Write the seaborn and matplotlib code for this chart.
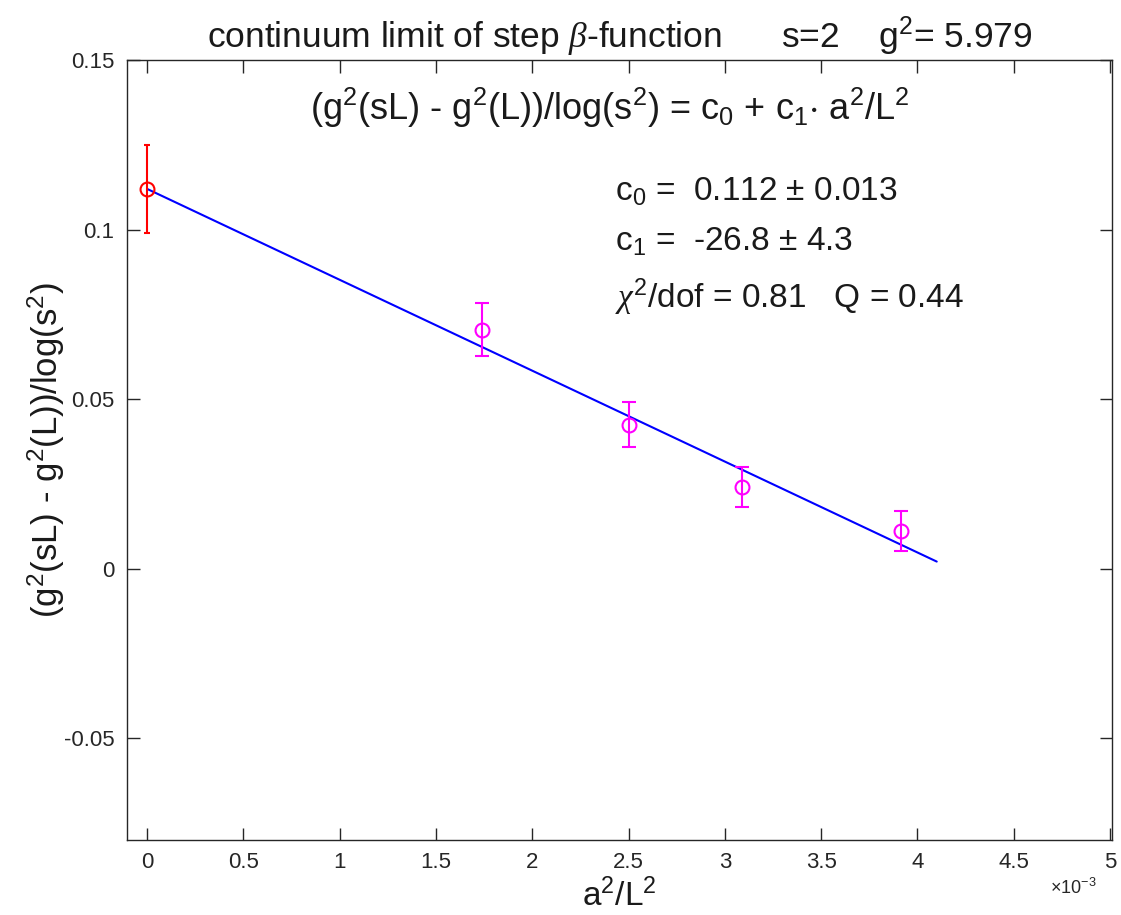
import matplotlib
matplotlib.use("Agg")
import matplotlib.pyplot as plt
import seaborn as sns
import numpy as np

# ---- data ----
x_cont = [0.0]
y_cont = [0.112]
e_cont = [0.013]

x_pts = [1.739e-3, 2.503e-3, 3.09e-3, 3.915e-3]
y_pts = [0.0705, 0.0425, 0.0242, 0.0112]
e_pts = [0.0077, 0.0067, 0.0059, 0.0059]

fit_x = [0.0, 4.1e-3]
fit_y = [0.112, 0.0021]

xticks = [0, 0.5e-3, 1e-3, 1.5e-3, 2e-3, 2.5e-3, 3e-3, 3.5e-3, 4e-3, 4.5e-3, 5e-3]
xtick_labels = ['0', '0.5', '1', '1.5', '2', '2.5', '3', '3.5', '4', '4.5', '5']
yticks = [-0.05, 0, 0.05, 0.1, 0.15]
ytick_labels = ['-0.05', '0', '0.05', '0.1', '0.15']

sns.set_theme(style="ticks")
plt.rcParams['font.family'] = ['Liberation Sans', 'DejaVu Sans']
plt.rcParams['mathtext.fontset'] = 'custom'
plt.rcParams['mathtext.rm'] = 'Liberation Sans'
plt.rcParams['mathtext.it'] = 'Liberation Serif:italic'
plt.rcParams['mathtext.default'] = 'regular'

fig = plt.figure(figsize=(11.21, 9.15), dpi=100)
ax = fig.add_axes([127/1121, 1-840/915, 985/1121, 780/915])

sns.lineplot(x=fit_x, y=fit_y, color='#0000ff', lw=1.5, ax=ax)
ax.errorbar(x_cont, y_cont, yerr=e_cont, fmt='o', color='#ff0000', mfc='none',
            ms=10, mew=1.5, elinewidth=1.5, capsize=2, capthick=1.5)
ax.errorbar(x_pts, y_pts, yerr=e_pts, fmt='o', color='#ff00ff', mfc='none',
            ms=10, mew=1.5, elinewidth=1.5, capsize=5, capthick=1.5)

ax.set_xlim(-0.104e-3, 5.01e-3)
ax.set_ylim(-0.08, 0.15)
ax.set_xticks(xticks)
ax.set_xticklabels(xtick_labels)
ax.set_yticks(yticks)
ax.set_yticklabels(ytick_labels)
ax.tick_params(direction='in', length=9, width=1, top=True, right=True,
               labelsize=16, colors='#262626', pad=9)
for s in ax.spines.values():
    s.set_visible(True)
    s.set_color('#262626')
    s.set_linewidth(1.0)

ax.set_xlabel(r'a$^2$/L$^2$', fontsize=24, color='#1a1a1a', labelpad=4)
ax.set_ylabel(r'(g$^2$(sL) - g$^2$(L))/log(s$^2$)', fontsize=25, color='#1a1a1a', labelpad=-2)
ax.set_title(r'continuum limit of step $\mathit{\beta}$-function      s=2    g$^2$= 5.979',
             fontsize=25.5, color='#1a1a1a', pad=9)

fig.text(1050/1121, 1-888/915, r'$\times$10$^{-3}$', fontsize=13, color='#262626', va='center')

ax.text(0.846e-3, 0.136, r'(g$^2$(sL) - g$^2$(L))/log(s$^2$) = c$_0$ + c$_1$$\cdot$ a$^2$/L$^2$',
        fontsize=26, color='#1a1a1a', va='center', ha='left')
kw = dict(fontsize=24, color='#1a1a1a', va='center', ha='left')
ax.text(2.43e-3, 0.111, r'c$_0$ =  0.112 $\pm$ 0.013', **kw)
ax.text(2.43e-3, 0.0965, r'c$_1$ =  -26.8 $\pm$ 4.3', **kw)
ax.text(2.43e-3, 0.0800, r'$\mathit{\chi}^2$/dof = 0.81   Q = 0.44', **kw)

fig.savefig('out.png', dpi=100)
